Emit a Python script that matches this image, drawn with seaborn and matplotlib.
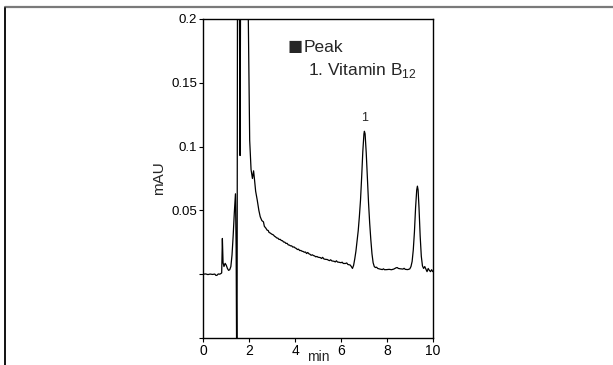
import matplotlib
matplotlib.use("Agg")
import matplotlib.pyplot as plt
from matplotlib.lines import Line2D
import seaborn as sns
import pandas as pd

# Chromatogram trace: retention time (min) and detector response (mAU)
time_min = [
    0.00, 0.10, 0.20, 0.30, 0.40, 0.50, 0.55, 0.60, 0.65, 0.70, 0.75, 0.80,
    0.83, 0.86, 0.90, 0.95, 1.00, 1.05, 1.10, 1.15, 1.20, 1.25, 1.30, 1.35,
    1.40, 1.43, 1.45, 1.47, 1.49, 1.56, 1.60, 1.63, 1.75, 1.90, 1.96, 2.02,
    2.08, 2.14, 2.19, 2.22, 2.28, 2.35, 2.42, 2.48, 2.55, 2.62, 2.66, 2.72,
    2.78, 2.83, 2.86, 2.92, 2.98, 3.05, 3.10, 3.15, 3.20, 3.25, 3.30, 3.35,
    3.40, 3.45, 3.50, 3.55, 3.60, 3.65, 3.70, 3.75, 3.80, 3.85, 3.90, 3.95,
    4.00, 4.05, 4.10, 4.15, 4.20, 4.25, 4.30, 4.35, 4.40, 4.45, 4.50, 4.55,
    4.60, 4.65, 4.70, 4.75, 4.80, 4.85, 4.90, 4.95, 5.00, 5.10, 5.15, 5.20,
    5.25, 5.30, 5.40, 5.45, 5.50, 5.55, 5.60, 5.70, 5.75, 5.80, 5.85, 5.90,
    6.00, 6.05, 6.10, 6.20, 6.25, 6.30, 6.40, 6.45, 6.50, 6.55, 6.60, 6.65,
    6.70, 6.75, 6.80, 6.85, 6.90, 6.95, 7.00, 7.02, 7.05, 7.10, 7.15, 7.20,
    7.25, 7.30, 7.35, 7.40, 7.45, 7.50, 7.55, 7.60, 7.70, 7.80, 7.85, 7.90,
    8.00, 8.10, 8.20, 8.30, 8.40, 8.45, 8.50, 8.60, 8.70, 8.75, 8.80, 8.90,
    8.95, 9.00, 9.05, 9.10, 9.15, 9.20, 9.25, 9.30, 9.33, 9.36, 9.40, 9.45,
    9.50, 9.55, 9.60, 9.65, 9.70, 9.75, 9.80, 9.85, 9.90, 9.95, 10.00,
]
response_mau = [
    0.0000, 0.0002, -0.0003, 0.0001, -0.0002, 0.0001, -0.0010, -0.0008, 0.0002, 0.0000, 0.0003, 0.0010,
    0.0280, 0.0090, 0.0060, 0.0085, 0.0070, 0.0045, 0.0030, 0.0035, 0.0060, 0.0150, 0.0300, 0.0480,
    0.0630, 0.0200, -0.0600, -0.0600, 0.2600, 0.2600, 0.0930, 0.2600, 0.3000, 0.2600, 0.2000, 0.1050,
    0.0820, 0.0750, 0.0810, 0.0760, 0.0650, 0.0580, 0.0500, 0.0450, 0.0420, 0.0410, 0.0375, 0.0362,
    0.0345, 0.0342, 0.0328, 0.0322, 0.0314, 0.0308, 0.0298, 0.0292, 0.0284, 0.0282, 0.0272, 0.0273,
    0.0264, 0.0262, 0.0252, 0.0251, 0.0241, 0.0242, 0.0230, 0.0228, 0.0222, 0.0222, 0.0212, 0.0214,
    0.0206, 0.0202, 0.0193, 0.0196, 0.0185, 0.0186, 0.0180, 0.0178, 0.0172, 0.0174, 0.0162, 0.0170,
    0.0160, 0.0156, 0.0148, 0.0152, 0.0146, 0.0143, 0.0136, 0.0139, 0.0133, 0.0130, 0.0123, 0.0132,
    0.0120, 0.0117, 0.0115, 0.0110, 0.0106, 0.0113, 0.0104, 0.0101, 0.0096, 0.0105, 0.0095, 0.0094,
    0.0090, 0.0094, 0.0084, 0.0084, 0.0088, 0.0076, 0.0072, 0.0060, 0.0045, 0.0070, 0.0120, 0.0180,
    0.0260, 0.0340, 0.0450, 0.0580, 0.0760, 0.0960, 0.1100, 0.1120, 0.1100, 0.0950, 0.0750, 0.0560,
    0.0400, 0.0270, 0.0160, 0.0090, 0.0060, 0.0052, 0.0055, 0.0045, 0.0040, 0.0036, 0.0042, 0.0035,
    0.0036, 0.0038, 0.0035, 0.0040, 0.0050, 0.0052, 0.0045, 0.0042, 0.0040, 0.0046, 0.0038, 0.0036,
    0.0038, 0.0042, 0.0060, 0.0100, 0.0190, 0.0330, 0.0520, 0.0660, 0.0690, 0.0660, 0.0520, 0.0300,
    0.0140, 0.0065, 0.0045, 0.0060, 0.0040, 0.0020, 0.0045, 0.0030, 0.0020, 0.0035, 0.0020,
]

# Axis ticks and labels
x_ticks = [0, 2, 4, 6, 8, 10]
y_ticks = [-0.05, 0.0, 0.05, 0.1, 0.15, 0.2]
y_tick_labels = ["", "", "0.05", "0.1", "0.15", "0.2"]

# Peak annotation
peak_label = "1"
peak_time = 7.02
peak_height = 0.112

sns.set_style("ticks")
plt.rcParams["font.family"] = ["Liberation Sans", "DejaVu Sans"]

fig = plt.figure(figsize=(6.13, 3.65), dpi=100)
ax = fig.add_axes([0.3317, 0.074, 0.3743, 0.874])

df = pd.DataFrame({"time": time_min, "mAU": response_mau})
sns.lineplot(data=df, x="time", y="mAU", ax=ax, color="black",
             linewidth=0.9, estimator=None, sort=False)

ax.set_xlim(0, 10)
ax.set_ylim(-0.05, 0.2)
ax.set_xticks(x_ticks)
ax.set_xticklabels([str(t) for t in x_ticks], fontsize=10)
ax.set_yticks(y_ticks)
ax.set_yticklabels(y_tick_labels, fontsize=9.5)
ax.tick_params(axis="both", direction="out", length=3, width=0.8,
               color="black", pad=1.5, labelcolor="black")
for side in ["left", "right", "top", "bottom"]:
    ax.spines[side].set_visible(True)
    ax.spines[side].set_color("black")
    ax.spines[side].set_linewidth(1.0)

ax.set_xlabel("min", fontsize=10, labelpad=-6)
ax.set_ylabel("mAU", fontsize=11, labelpad=4)

ax.text(peak_time, peak_height + 0.006, peak_label, ha="center",
        va="bottom", fontsize=9)

# Peak list header and entry
ax.text(0.368, 0.912, "\u25a0", transform=ax.transAxes, fontsize=18,
        ha="left", va="center")
ax.text(0.438, 0.910, "Peak", transform=ax.transAxes, fontsize=12.5,
        ha="left", va="center")
ax.text(0.458, 0.838, "1. Vitamin B$_\\mathregular{12}$", transform=ax.transAxes,
        fontsize=12.5, ha="left", va="center")

# Page frame lines
fig.add_artist(Line2D([5 / 613, 1.0], [1 - 7.3 / 365, 1 - 7.3 / 365],
                      transform=fig.transFigure, color="#7a7a7a", linewidth=1.6))
fig.add_artist(Line2D([5.2 / 613, 5.2 / 613], [1 - 8 / 365, 0.0],
                      transform=fig.transFigure, color="black", linewidth=1.3))

fig.savefig("out.png", dpi=100)
